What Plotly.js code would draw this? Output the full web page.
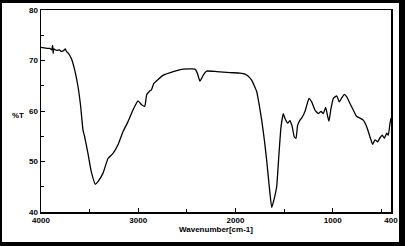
<!DOCTYPE html>
<html>
<head>
<meta charset="utf-8">
<script src="https://cdn.plot.ly/plotly-3.0.1.min.js"></script>
<style>
html,body{margin:0;padding:0;background:#fff;}
#chart{position:absolute;left:0;top:0;width:405px;height:246px;}
#frame{position:absolute;left:0;top:0;width:405px;height:246px;box-sizing:border-box;
border-style:solid;border-color:#000;border-width:3px 6px 4px 2px;pointer-events:none;}
</style>
</head>
<body>
<div id="chart"></div>
<div id="frame"></div>
<script>
// Wavenumber (cm-1) and transmittance (%T)
const wavenumber = [4000,3970,3940,3910,3890,3880,3875,3868,3840,3810,3790,3765,3750,3738,3722,3688,3653,3619,3592,3568,3551,3517,3483,3441,3414,3362,3311,3259,3208,3157,3105,3054,3002,2968,2933,2913,2879,2864,2838,2793,2742,2639,2536,2416,2392,2365,2331,2296,2193,2056,1953,1902,1868,1833,1781,1758,1730,1703,1679,1652,1627,1600,1576,1552,1531,1508,1490,1463,1439,1422,1416,1395,1377,1360,1336,1319,1285,1243,1216,1182,1148,1120,1096,1072,1051,1038,1017,993,958,932,907,880,855,822,788,753,719,685,650,633,606,588,565,537,513,489,469,444,428,410,400];
const transmittance = [72.6,72.5,72.4,72.4,72.1,73.0,71.4,72.3,72.0,72.1,71.8,72.0,72.3,71.8,71.5,70.4,68.1,64.8,60.9,56.2,54.9,51.6,48.0,45.5,46.0,47.7,50.6,51.6,53.3,55.9,57.9,60.2,62.0,61.3,60.9,63.2,64.0,64.2,65.5,66.3,67.1,67.8,68.3,68.3,67.5,65.9,67.1,67.9,67.8,67.6,67.5,67.3,66.9,66.1,63.8,61.5,58.2,54.3,50.3,45.0,40.9,42.7,45.0,51.6,56.9,59.5,58.5,57.6,58.1,57.3,56.9,54.9,54.6,57.2,58.2,58.6,59.9,62.5,61.8,60.2,59.5,59.9,59.5,60.7,58.9,58.0,60.5,62.5,63.0,61.8,62.6,63.3,62.8,61.5,60.2,58.9,58.6,58.2,56.9,55.9,54.3,53.4,54.3,53.9,54.7,55.2,54.6,55.6,55.2,57.6,58.6];
const xTickVals = [4000,3000,2000,1000,400];
const xTickText = ["4000","3000","2000","1000","400"];
const xMinorVals = [3500,2500,1500,500];
const yTickVals = [40,50,60,70,80];
const yMinorVals = [45,55,65,75];
const xTitle = "Wavenumber[cm-1]";
const yTitle = "%T";

const fnt = {family:"Liberation Sans, Arial, sans-serif", size:8, color:"#000", weight:"bold"};

Plotly.newPlot("chart", [{
  x: wavenumber, y: transmittance, type:"scatter", mode:"lines",
  line:{color:"#000", width:1.3, shape:"spline", smoothing:0.4}, hoverinfo:"skip"
}], {
  width:405, height:246,
  margin:{l:41, r:14, t:10, b:34, pad:0},
  paper_bgcolor:"#fff", plot_bgcolor:"#fff",
  showlegend:false,
  font:fnt,
  xaxis:{
    range:[4000,400], autorange:false,
    tickmode:"array", tickvals:xTickVals, ticktext:xTickText,
    ticks:"inside", ticklen:4, tickwidth:1, tickcolor:"#000",
    minor:{tickmode:"array", tickvals:xMinorVals, ticks:"inside", ticklen:3, tickwidth:1, tickcolor:"#000"},
    showgrid:false, zeroline:false,
    showline:true, linecolor:"#000", linewidth:1.5, mirror:true,
    tickfont:fnt
  },
  yaxis:{
    range:[40,80], autorange:false,
    tickmode:"array", tickvals:yTickVals,
    ticks:"inside", ticklen:4, tickwidth:1, tickcolor:"#000",
    minor:{tickmode:"array", tickvals:yMinorVals, ticks:"inside", ticklen:3, tickwidth:1, tickcolor:"#000"},
    showgrid:false, zeroline:false,
    showline:true, linecolor:"#000", linewidth:1.5, mirror:true,
    tickfont:fnt
  },
  annotations:[
    {text:xTitle, xref:"paper", yref:"paper", x:0.5, y:-0.089, xanchor:"center", yanchor:"middle", showarrow:false, font:fnt},
    {text:yTitle, xref:"paper", yref:"y", x:-0.066, y:59.2, xanchor:"center", yanchor:"middle", showarrow:false, font:fnt}
  ]
}, {staticPlot:true, displayModeBar:false});
</script>
</body>
</html>
